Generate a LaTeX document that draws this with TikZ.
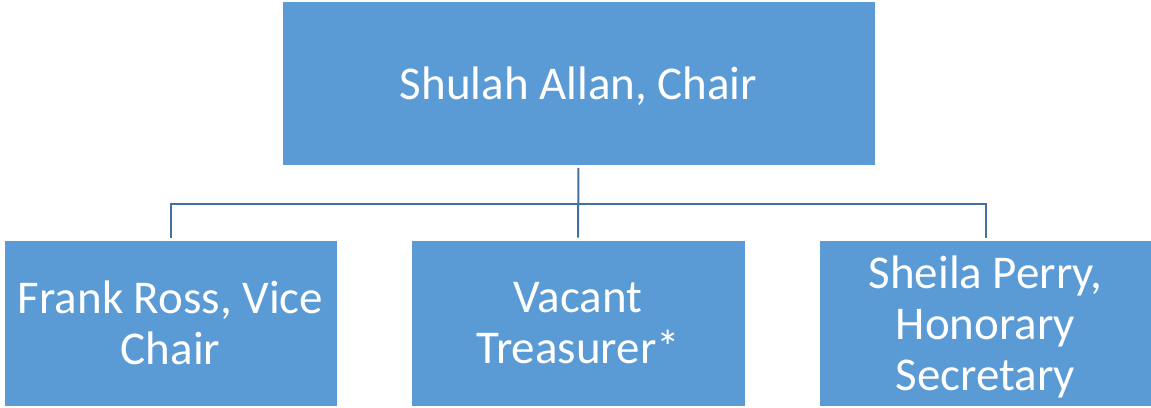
\documentclass[tikz,border=0pt]{standalone}
\usepackage{fontspec}
\setmainfont{Carlito}
\definecolor{boxfill}{HTML}{5B9BD5}
\definecolor{linkcol}{HTML}{41719C}
\begin{document}
\begin{tikzpicture}[x=1pt,y=-1pt,
  orgbox/.style={rectangle, fill=boxfill, draw=white, line width=0.8pt,
    text=white, align=center, inner sep=0pt, text depth=0pt,
    font=\fontsize{47}{51}\selectfont},
  link/.style={draw=linkcol, line width=2pt}]
  \useasboundingbox (0,0) rectangle (1151,407);
  % chair
  \node[orgbox, minimum width=593pt, minimum height=164pt] (chair) at (578.5,83.5) {Shulah Allan, Chair};
  % officers
  \node[orgbox, minimum width=333pt, minimum height=166pt] (vice) at (170.5,323) {Frank Ross, Vice\\Chair};
  \node[orgbox, minimum width=334pt, minimum height=166pt] (treas) at (578,323) {Vacant\\Treasurer*};
  \node[orgbox, minimum width=333pt, minimum height=166pt] (sec) at (985.5,323) {Sheila Perry,\\Honorary\\Secretary};
  % bus line
  \coordinate (bus) at (578,204);
  \draw[link, shorten <=2pt, shorten >=2pt] (chair.south) -- (treas.north);
  \draw[link, shorten <=2pt, shorten >=2pt] (vice.north) -- (vice.north |- bus) -- (sec.north |- bus) -- (sec.north);
\end{tikzpicture}
\end{document}
